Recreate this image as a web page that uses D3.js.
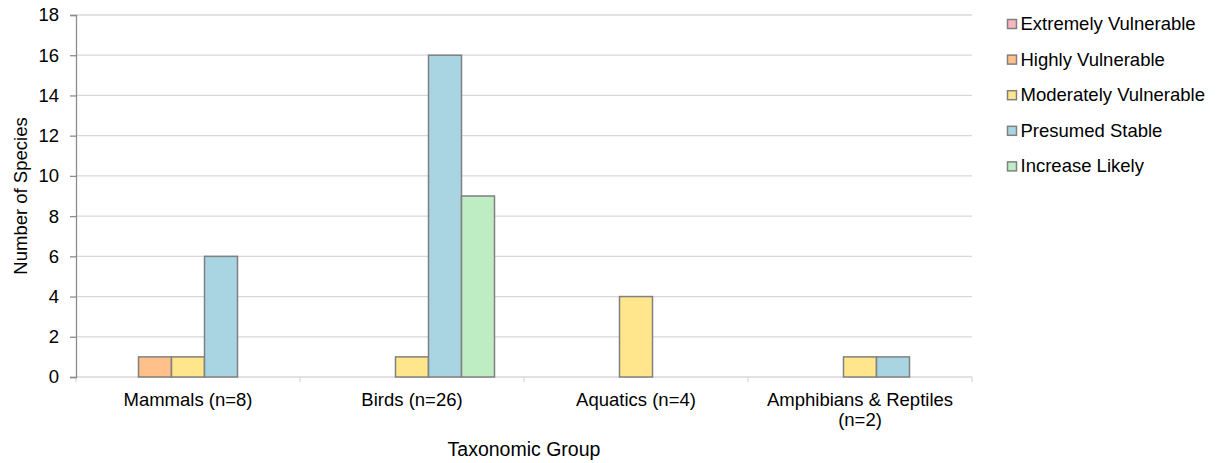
<!DOCTYPE html>
<html><head><meta charset="utf-8">
<script src="https://cdn.jsdelivr.net/npm/d3@7"></script>
<style>body{margin:0;background:#fff;}svg{display:block;font-family:"Liberation Sans",Arial,sans-serif;}</style>
</head><body>
<svg id="chart" width="1222" height="463"></svg>
<script>
const categories = ["Mammals (n=8)", "Birds (n=26)", "Aquatics (n=4)", "Amphibians & Reptiles (n=2)"];
const categoryLines = [["Mammals (n=8)"], ["Birds (n=26)"], ["Aquatics (n=4)"], ["Amphibians & Reptiles", "(n=2)"]];
const seriesNames = ["Extremely Vulnerable", "Highly Vulnerable", "Moderately Vulnerable", "Presumed Stable", "Increase Likely"];
const extremelyVulnerable = [0, 0, 0, 0];
const highlyVulnerable = [1, 0, 0, 0];
const moderatelyVulnerable = [1, 1, 4, 1];
const presumedStable = [6, 16, 0, 1];
const increaseLikely = [0, 9, 0, 0];
const seriesValues = [extremelyVulnerable, highlyVulnerable, moderatelyVulnerable, presumedStable, increaseLikely];
const colors = ["#F9B5C1", "#FFC08A", "#FFE68C", "#A9D5E2", "#BEEDC3"];
const yTicks = [0, 2, 4, 6, 8, 10, 12, 14, 16, 18];

(function () {
const svg = d3.select("#chart");
const mLeft = 76, mRight = 972, mTop = 15, mBottom = 377;
const FS = 18.5;

const x0 = d3.scaleBand().domain(categories).range([mLeft, mRight]).paddingInner(0).paddingOuter(0);
const x1 = d3.scaleBand().domain(seriesNames).range([0, 165]);
const y = d3.scaleLinear().domain([0, 18]).range([mBottom, mTop]);

// gridlines
svg.append("g").selectAll("line").data(yTicks.filter(d => d > 0)).join("line")
  .attr("x1", mLeft).attr("x2", mRight).attr("y1", d => y(d)).attr("y2", d => y(d))
  .attr("stroke", "#D9D9D9").attr("stroke-width", 1.3);

// bottom axis line and ticks
svg.append("line").attr("x1", mLeft).attr("x2", mRight).attr("y1", mBottom).attr("y2", mBottom)
  .attr("stroke", "#D9D9D9").attr("stroke-width", 1.3);
const bounds = categories.map(c => x0(c)).concat([mRight]);
svg.append("g").selectAll("line").data(bounds).join("line")
  .attr("x1", d => d).attr("x2", d => d).attr("y1", mBottom).attr("y2", mBottom + 5)
  .attr("stroke", "#D9D9D9").attr("stroke-width", 1.3);

// bars
const flat = [];
categories.forEach((c, ci) => seriesNames.forEach((s, si) => {
  flat.push({c, s, si, v: seriesValues[si][ci]});
}));
const groupOffset = (x0.bandwidth() - 165) / 2;
svg.append("g").selectAll("rect").data(flat.filter(d => d.v > 0)).join("rect")
  .attr("x", d => x0(d.c) + groupOffset + x1(d.s))
  .attr("y", d => y(d.v))
  .attr("width", x1.bandwidth())
  .attr("height", d => y(0) - y(d.v))
  .attr("fill", d => colors[d.si])
  .attr("stroke", "#808080").attr("stroke-width", 1.5);

// y axis
const yAxis = d3.axisLeft(y).tickValues(yTicks).tickSize(6).tickPadding(11).tickFormat(d3.format("d"));
const yg = svg.append("g").attr("transform", `translate(${mLeft},0)`).call(yAxis);
yg.select(".domain").attr("stroke", "#8C8C8C").attr("stroke-width", 1.3);
yg.selectAll(".tick line").attr("stroke", "#8C8C8C").attr("stroke-width", 1.3);
yg.selectAll("text").attr("font-size", FS).attr("fill", "#000").attr("font-family", "Liberation Sans, Arial, sans-serif");

// x labels
categories.forEach((c, i) => {
  const t = svg.append("text").attr("text-anchor", "middle").attr("font-size", FS).attr("fill", "#000");
  categoryLines[i].forEach((line, li) => {
    t.append("tspan").attr("x", x0(c) + x0.bandwidth() / 2).attr("y", 406 + li * 19.5).text(line);
  });
});

// axis titles
svg.append("text").attr("x", (mLeft + mRight) / 2).attr("y", 456).attr("text-anchor", "middle")
  .attr("font-size", 19.5).text("Taxonomic Group");
svg.append("text").attr("transform", `translate(27,${(mTop + mBottom) / 2}) rotate(-90)`)
  .attr("text-anchor", "middle").attr("font-size", FS).text("Number of Species");

// legend
const lg = svg.append("g").selectAll("g").data(seriesNames).join("g")
  .attr("transform", (d, i) => `translate(1007.5,${30 + i * 35.6})`);
lg.append("rect").attr("x", 0).attr("y", -10.5).attr("width", 9).attr("height", 9)
  .attr("fill", (d, i) => colors[i]).attr("stroke", "#808080").attr("stroke-width", 1.5);
lg.append("text").attr("x", 13).attr("y", 0).attr("font-size", FS).text(d => d);
})();
</script>
</body></html>
